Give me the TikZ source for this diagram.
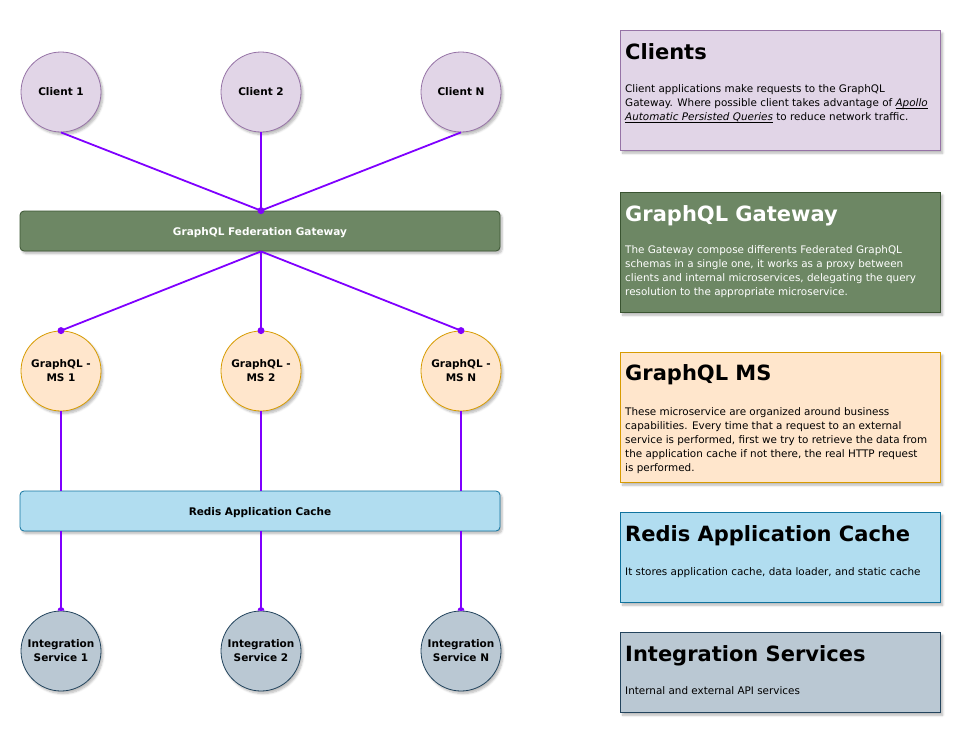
\documentclass[tikz,border=0pt]{standalone}
\usepackage{fontspec}
\setmainfont{DejaVu Sans}
\usetikzlibrary{shadows.blur}
\newcommand\myul[1]{\underline{\smash{#1}}}
\definecolor{purfill}{HTML}{E1D5E7}\definecolor{purline}{HTML}{9673A6}
\definecolor{grnfill}{HTML}{6D8764}\definecolor{grnline}{HTML}{3A5431}
\definecolor{orgfill}{HTML}{FFE6CC}\definecolor{orgline}{HTML}{D79B00}
\definecolor{blufill}{HTML}{B1DDF0}\definecolor{bluline}{HTML}{10739E}
\definecolor{gryfill}{HTML}{BAC8D3}\definecolor{gryline}{HTML}{23445D}
\definecolor{linec}{HTML}{7F00FF}
\begin{document}
\begin{tikzpicture}[x=1pt,y=-1pt,
  shad/.style={blur shadow={shadow xshift=2pt,shadow yshift=-2.5pt,shadow opacity=28,shadow blur steps=6}},
  circ/.style={circle,minimum size=80pt,inner sep=0pt,draw,line width=0.8pt,align=center,
    font=\fontsize{10.5}{14}\selectfont\bfseries,shad},
  bar/.style={rectangle,rounded corners=4pt,minimum width=480pt,minimum height=40pt,draw,
    line width=0.8pt,text height=9.4pt,text depth=0pt,font=\fontsize{10.5}{14}\selectfont\bfseries,shad},
  infobox/.style={rectangle,minimum width=320pt,draw,line width=0.8pt,shad},
  ttl/.style={anchor=base west,inner sep=0pt,font=\fontsize{21}{25}\selectfont\bfseries},
  body/.style={anchor=base west,inner sep=0pt,align=left,font=\fontsize{10.4}{14}\selectfont},
  conn/.style={draw=linec,line width=1.8pt},
  cli/.style={circ,fill=purfill,draw=purline},
  gms/.style={circ,fill=orgfill,draw=orgline},
  isv/.style={circ,fill=gryfill,draw=gryline}]
\useasboundingbox (0,0) rectangle (972,744);

% left diagram nodes
\node[cli] (c1) at (61,92) {Client 1};
\node[cli] (c2) at (261,92) {Client 2};
\node[cli] (cn) at (461,92) {Client N};

\node[bar,fill=grnfill,draw=grnline,text=white] (gw) at (260,231) {GraphQL Federation Gateway};

\node[gms] (m1) at (61,371) {GraphQL -\\MS 1};
\node[gms] (m2) at (261,371) {GraphQL -\\MS 2};
\node[gms] (mn) at (461,371) {GraphQL -\\MS N};

\node[bar,fill=blufill,draw=bluline] (rc) at (260,511) {Redis Application Cache};

\node[isv] (i1) at (61,651) {Integration\\Service 1};
\node[isv] (i2) at (261,651) {Integration\\Service 2};
\node[isv] (in) at (461,651) {Integration\\Service N};

\coordinate (gtop) at (c2.south |- gw.north);
\coordinate (gbot) at (c2.south |- gw.south);

% connectors
\draw[conn] (c1.south) -- (gtop);
\draw[conn] (c2.south) -- (gtop);
\draw[conn] (cn.south) -- (gtop);
\fill[linec] (gtop) circle (3.5pt);

\draw[conn] (gbot) -- (m1.north);
\draw[conn] (gbot) -- (m2.north);
\draw[conn] (gbot) -- (mn.north);
\fill[linec] (m1.north) circle (3.5pt);
\fill[linec] (m2.north) circle (3.5pt);
\fill[linec] (mn.north) circle (3.5pt);

\draw[conn] (m1.south) -- (m1.south |- rc.north);
\draw[conn] (m2.south) -- (m2.south |- rc.north);
\draw[conn] (mn.south) -- (mn.south |- rc.north);

\draw[conn] (i1.north |- rc.south) -- (i1.north);
\draw[conn] (i2.north |- rc.south) -- (i2.north);
\draw[conn] (in.north |- rc.south) -- (in.north);
\fill[linec] ([xshift=-3.5pt]i1.north) arc (180:360:3.5) -- cycle;
\fill[linec] ([xshift=-3.5pt]i2.north) arc (180:360:3.5) -- cycle;
\fill[linec] ([xshift=-3.5pt]in.north) arc (180:360:3.5) -- cycle;

% right info boxes
\node[infobox,fill=purfill,draw=purline,minimum height=120pt] (bcl) at (780.7,90.7) {};
\node[ttl] (tcl) at (625,59) {Clients};
\node[body] (xcl) at (625,120.7) {Client applications make requests to the GraphQL\\
Gateway. Where possible client takes advantage of \myul{\textit{Apollo}}\\
\myul{\textit{Automatic Persisted Queries}} to reduce network traffic.};

\node[infobox,fill=grnfill,draw=grnline,minimum height=120pt] (bgw) at (780.7,252.7) {};
\node[ttl,text=white] (tgw) at (625,221.7) {GraphQL Gateway};
\node[body,text=white] (xgw) at (625,295.3) {The Gateway compose differents Federated GraphQL\\
schemas in a single one, it works as a proxy between\\
clients and internal microservices, delegating the query\\
resolution to the appropriate microservice.};

\node[infobox,fill=orgfill,draw=orgline,minimum height=130pt] (bms) at (780.7,417.7) {};
\node[ttl] (tms) at (625,380.7) {GraphQL MS};
\node[body] (xms) at (625,471) {These microservice are organized around business\\
capabilities. Every time that a request to an external\\
service is performed, first we try to retrieve the data from\\
the application cache if not there, the real HTTP request\\
is performed.};

\node[infobox,fill=blufill,draw=bluline,minimum height=90pt] (brc) at (780.7,557.7) {};
\node[ttl] (trc) at (625,541) {Redis Application Cache};
\node[body] (xrc) at (625,575) {It stores application cache, data loader, and static cache};

\node[infobox,fill=gryfill,draw=gryline,minimum height=80pt] (bis) at (780.7,672.7) {};
\node[ttl] (tis) at (625,661) {Integration Services};
\node[body] (xis) at (625,694.3) {Internal and external API services};
\end{tikzpicture}
\end{document}
